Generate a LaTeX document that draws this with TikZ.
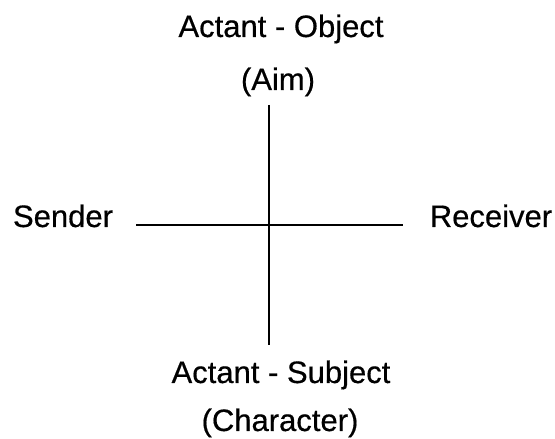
\documentclass[tikz,border=0pt]{standalone}
\usepackage{fontspec}
\setmainfont{Liberation Sans}
\newfontfamily\lblfont{Liberation Sans}[FakeBold=0.5]
\begin{document}
\begin{tikzpicture}[x=1pt,y=1pt,
  lbl/.style={anchor=base,inner sep=0pt,font=\lblfont\fontsize{31}{36}\selectfont},
  axis/.style={line width=1.3pt,black}]
\useasboundingbox (0,0) rectangle (555,439);
\node[lbl] (obj) at (281,402) {Actant - Object};
\node[lbl] (aim) at (278,349) {(Aim)};
\node[lbl] (snd) at (63,212) {Sender};
\node[lbl] (rcv) at (491,212) {Receiver};
\node[lbl] (sub) at (281,56) {Actant - Subject};
\node[lbl] (chr) at (280,8) {(Character)};
\coordinate (vt) at (269,334);
\coordinate (vb) at (269,94);
\coordinate (hl) at (136,214);
\coordinate (hr) at (403,214);
\draw[axis] (vt) -- (vb);
\draw[axis] (hl) -- (hr);
\end{tikzpicture}
\end{document}
